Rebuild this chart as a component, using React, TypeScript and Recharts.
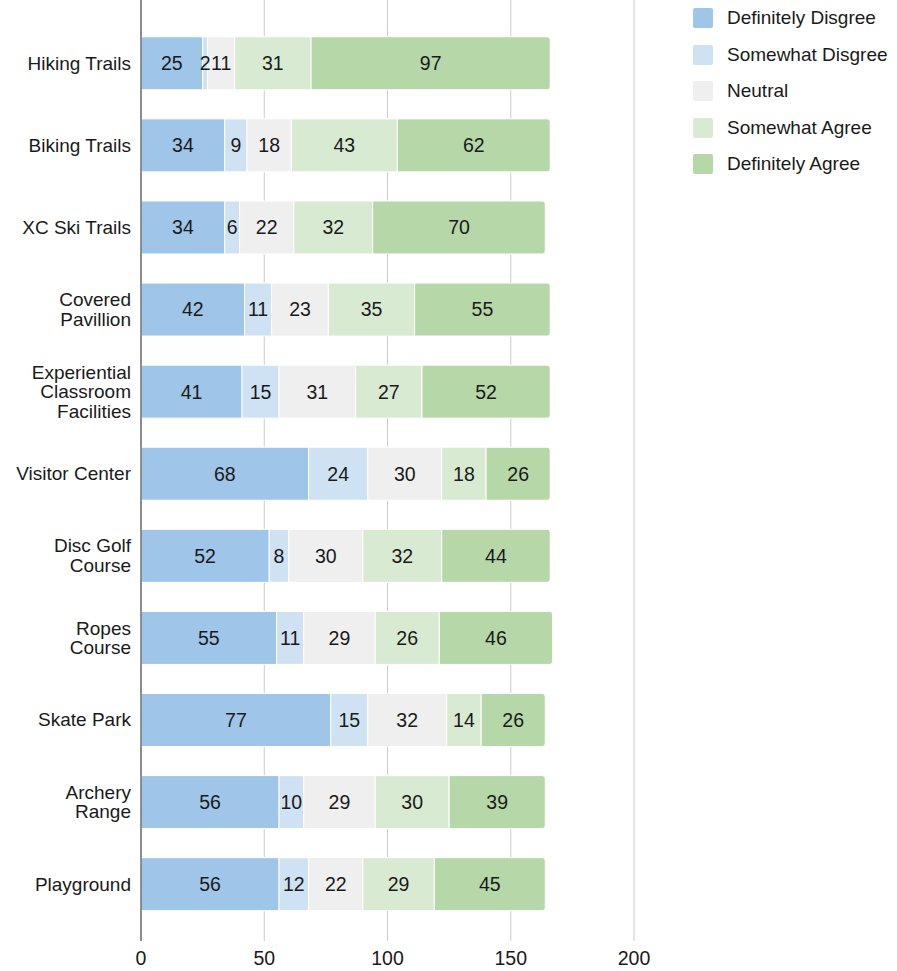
import { BarChart, Bar, XAxis, YAxis, CartesianGrid, LabelList } from "recharts";

// amenity names, "\n" marks where the axis label wraps
const categories = [
  "Hiking Trails",
  "Biking Trails",
  "XC Ski Trails",
  "Covered\nPavillion",
  "Experiential\nClassroom\nFacilities",
  "Visitor Center",
  "Disc Golf\nCourse",
  "Ropes\nCourse",
  "Skate Park",
  "Archery\nRange",
  "Playground",
];

const definitelyDisagree = [25, 34, 34, 42, 41, 68, 52, 55, 77, 56, 56];
const somewhatDisagree = [2, 9, 6, 11, 15, 24, 8, 11, 15, 10, 12];
const neutral = [11, 18, 22, 23, 31, 30, 30, 29, 32, 29, 22];
const somewhatAgree = [31, 43, 32, 35, 27, 18, 32, 26, 14, 30, 29];
const definitelyAgree = [97, 62, 70, 55, 52, 26, 44, 46, 26, 39, 45];

const xTicks = [0, 50, 100, 150, 200];

const SERIES = [
  { key: "dd", name: "Definitely Disgree", color: "#9fc5e8", values: definitelyDisagree },
  { key: "sd", name: "Somewhat Disgree", color: "#cfe2f3", values: somewhatDisagree },
  { key: "ne", name: "Neutral", color: "#efefef", values: neutral },
  { key: "sa", name: "Somewhat Agree", color: "#d9ead3", values: somewhatAgree },
  { key: "da", name: "Definitely Agree", color: "#b6d7a8", values: definitelyAgree },
];

const rows = categories.map((name, i) => {
  const row: any = { name };
  SERIES.forEach((s) => (row[s.key] = s.values[i]));
  return row;
});

const TEXT = "#1a1a1a";
const FS = 19.5;

function YTick(props: any) {
  const { x, y, payload } = props;
  const lines = String(payload.value).split("\n");
  const lh = 19.5;
  const start = y - ((lines.length - 1) * lh) / 2;
  return (
    <text x={x} y={start} textAnchor="end" fill={TEXT} fontSize={19}>
      {lines.map((l, i) => (
        <tspan key={i} x={x} y={start + i * lh} dy="0.35em">
          {l}
        </tspan>
      ))}
    </text>
  );
}

function LegendBox() {
  return (
    <div style={{ position: "absolute", left: 693, top: 0 }}>
      {SERIES.map((s) => (
        <div key={s.key} style={{ display: "flex", alignItems: "center", height: 36.5 }}>
          <div style={{ width: 20, height: 20, background: s.color, borderRadius: 2, marginRight: 14 }} />
          <span style={{ fontSize: 19, color: TEXT, whiteSpace: "nowrap" }}>{s.name}</span>
        </div>
      ))}
    </div>
  );
}

export default function App() {
  return (
    <div
      style={{
        position: "absolute",
        left: 0,
        top: 0,
        width: 897,
        height: 971,
        background: "#fff",
        fontFamily: "'Liberation Sans', Arial, sans-serif",
      }}
    >
      <BarChart
        layout="vertical"
        width={897}
        height={971}
        data={rows}
        margin={{ top: 0, right: 263, bottom: 0, left: 0 }}
        barCategoryGap="18%"
      >
        <CartesianGrid horizontal={false} stroke="#ccc" />
        <XAxis
          type="number"
          domain={[0, 200]}
          ticks={xTicks}
          interval={0}
          axisLine={false}
          tickLine={false}
          tickSize={0}
          tickMargin={10}
          height={30}
          tick={{ fill: TEXT, fontSize: FS }}
        />
        <YAxis
          type="category"
          dataKey="name"
          width={141}
          interval={0}
          axisLine={{ stroke: "#333" }}
          tickLine={false}
          tickSize={0}
          tickMargin={10}
          padding={{ top: 22, bottom: 16 }}
          tick={<YTick />}
        />
        {SERIES.map((s, i) => (
          <Bar
            key={s.key}
            dataKey={s.key}
            name={s.name}
            stackId="a"
            fill={s.color}
            stroke="#fff"
            strokeWidth={1}
            radius={i === SERIES.length - 1 ? [0, 3, 3, 0] : 0}
            isAnimationActive={false}
          >
            <LabelList dataKey={s.key} position="center" fill={TEXT} fontSize={FS} />
          </Bar>
        ))}
      </BarChart>
      <LegendBox />
    </div>
  );
}
